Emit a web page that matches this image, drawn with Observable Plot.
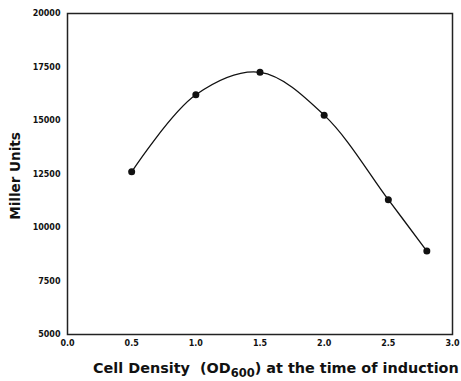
<!DOCTYPE html>
<html>
<head>
<meta charset="utf-8">
<script src="https://cdn.jsdelivr.net/npm/d3@7"></script>
<script src="https://cdn.jsdelivr.net/npm/@observablehq/plot@0.6"></script>
<style>
  html, body { margin: 0; padding: 0; background: #fff; }
</style>
</head>
<body>
<div id="chart"></div>
<script>
const cellDensity = [0.5, 1.0, 1.5, 2.0, 2.5, 2.8];
const millerUnits = [12600, 16200, 17250, 15250, 11300, 8900];
const xTicks = [0, 0.5, 1.0, 1.5, 2.0, 2.5, 3.0];
const yTicks = [5000, 7500, 10000, 12500, 15000, 17500, 20000];
const yLabel = "Miller Units";
const xLabelParts = ["Cell Density  (OD", "600", ") at the time of induction"];

const data = cellDensity.map((x, i) => ({x, y: millerUnits[i]}));
const FONT = "DejaVu Sans, Verdana, sans-serif";

const chart = Plot.plot({
  width: 461,
  height: 381,
  marginLeft: 67,
  marginRight: 9,
  marginTop: 13,
  marginBottom: 47,
  style: {fontFamily: FONT, background: "#fff", color: "#111"},
  x: {domain: [0, 3]},
  y: {domain: [5000, 20000]},
  marks: [
    Plot.frame({stroke: "#222", strokeWidth: 1.5}),
    Plot.axisX({ticks: xTicks, tickSize: 0, tickPadding: 6, tickFormat: d => d.toFixed(1), label: null, fontSize: 8, fontWeight: "bold"}),
    Plot.axisY({ticks: yTicks, tickSize: 0, tickPadding: 7, tickFormat: d => String(d), label: null, fontSize: 8, fontWeight: "bold"}),
    Plot.line(data, {x: "x", y: "y", curve: "catmull-rom", stroke: "#111", strokeWidth: 1.3}),
    Plot.dot(data, {x: "x", y: "y", r: 3.5, fill: "#111", stroke: "none"})
  ]
});
document.getElementById("chart").appendChild(chart);

const svg = d3.select(chart);
const xl = svg.append("text")
  .attr("x", 93).attr("y", 373)
  .attr("text-anchor", "start")
  .attr("font-family", FONT)
  .attr("font-size", 14.4).attr("font-weight", "bold").attr("fill", "#111")
  .style("white-space", "pre");
xl.append("tspan").text(xLabelParts[0]);
xl.append("tspan").attr("font-size", 11.5).attr("dy", 4).text(xLabelParts[1]);
xl.append("tspan").attr("dy", -4).text(xLabelParts[2]);

svg.append("text")
  .attr("transform", "translate(20,176) rotate(-90)")
  .attr("text-anchor", "middle")
  .attr("font-family", FONT)
  .attr("font-size", 13.5).attr("font-weight", "bold").attr("fill", "#111")
  .text(yLabel);
</script>
</body>
</html>
